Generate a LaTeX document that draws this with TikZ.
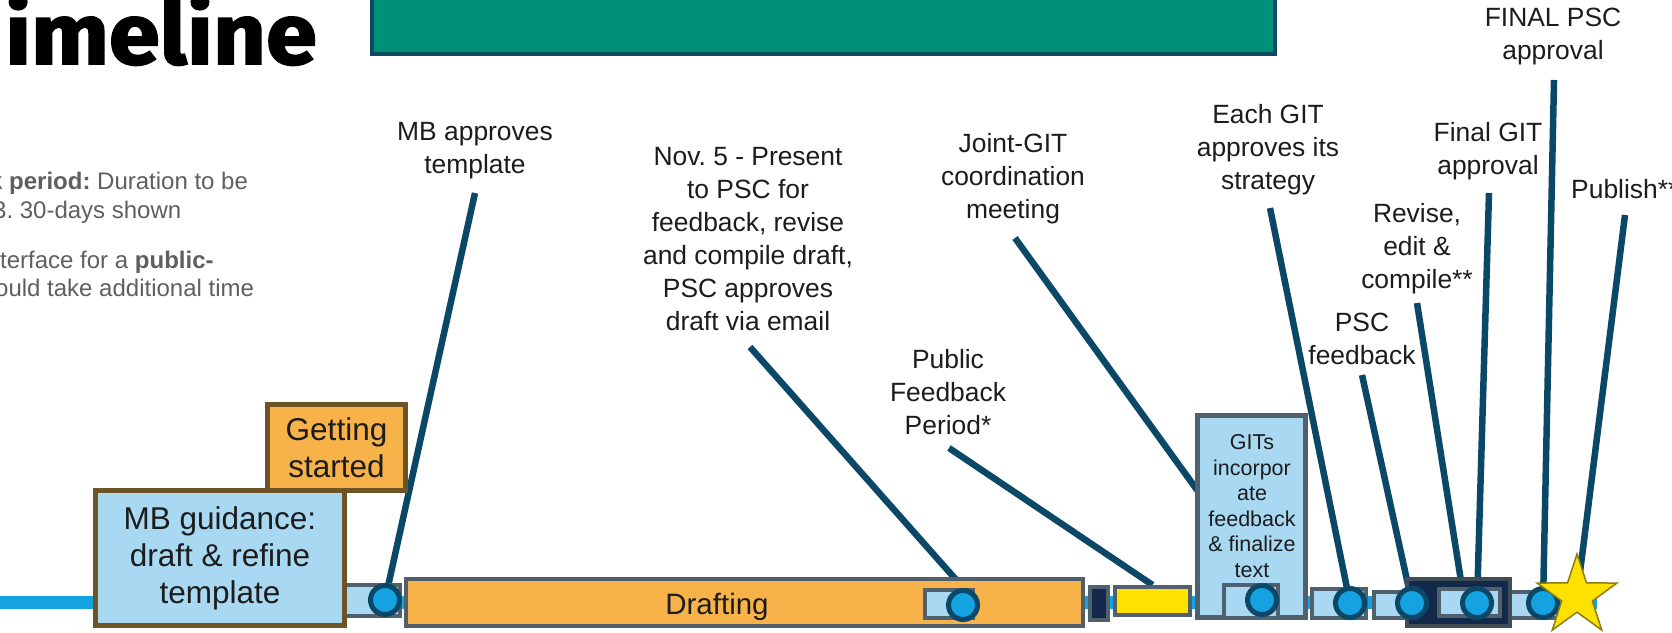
\documentclass[tikz,border=0pt]{standalone}
\usepackage{fontspec}
\setmainfont{Liberation Sans}
\newfontfamily\titlefont{Fira Sans}[FakeStretch=1.07, BoldFeatures={FakeBold=2}]
\usetikzlibrary{shapes.geometric}
\pgfdeclarelayer{bg}
\pgfsetlayers{bg,main}
\frenchspacing
\definecolor{tealfill}{HTML}{009079}
\definecolor{tealedge}{HTML}{0B4B5F}
\definecolor{lblue}{HTML}{A9D9F2}
\definecolor{bblue}{HTML}{14A3E0}
\definecolor{navyline}{HTML}{0B4868}
\definecolor{orangef}{HTML}{F8B24A}
\definecolor{brownedge}{HTML}{6E5424}
\definecolor{grayedge}{HTML}{50606C}
\definecolor{darknavy}{HTML}{13294B}
\definecolor{yell}{HTML}{FFE100}
\definecolor{staredge}{HTML}{8C7D10}
\definecolor{txtgray}{HTML}{5F5F5F}
\definecolor{txt}{HTML}{1C1C1C}
\tikzset{
  lbl/.style={align=center, inner sep=0pt, text=txt, font=\fontsize{26.4}{33}\selectfont},
  gt/.style={anchor=base west, inner sep=0pt, text=txtgray, font=\fontsize{24}{28}\selectfont},
  conn/.style={draw=navyline, line width=6.5pt},
  tline/.style={draw=bblue, line width=13pt},
  seg/.style={draw=grayedge, fill=lblue, line width=4pt, inner sep=0pt},
  bar/.style={draw=grayedge, line width=4pt, inner sep=0pt},
  brownbox/.style={draw=brownedge, line width=5pt, inner sep=0pt, align=center, text=txt, font=\fontsize{31.5}{37}\selectfont},
  dot/.style={circle, draw=navyline, fill=bblue, line width=5pt, minimum size=29pt, inner sep=0pt}
}
\begin{document}
\begin{tikzpicture}[x=1pt,y=-1pt]
\useasboundingbox (0,0) rectangle (1672,632);
% header
\node[draw=tealedge, fill=tealfill, line width=4pt, minimum width=903pt, minimum height=70pt, inner sep=0pt] (teal) at (823.5,19) {};
\node[anchor=base west, inner sep=0pt, font=\titlefont\bfseries\fontsize{86}{90}\selectfont, text=black] (title) at (5,64) {imeline};
\node[gt] (g1) at (-11,189) {\textbf{k period:} Duration to be};
\node[gt] (g2) at (-7,218) {3. 30-days shown};
\node[gt] (g3) at (0,268) {terface for a \textbf{public-}};
\node[gt] (g4) at (-5,296) {ould take additional time};
% labels
\node[lbl] (l1) at (475,151) {MB approves\\template};
\node[lbl] (l2) at (748,239) {Nov. 5 - Present\\to PSC for\\feedback, revise\\and compile draft,\\PSC approves\\draft via email};
\node[lbl] (l3) at (948,392) {Public\\Feedback\\Period*};
\node[lbl] (l4) at (1013,179) {Joint-GIT\\coordination\\meeting};
\node[lbl] (l5) at (1268,150) {Each GIT\\approves its\\strategy};
\node[lbl] (l6) at (1362,339) {PSC\\feedback};
\node[lbl] (l7) at (1417,249) {Revise,\\edit \&\\compile**};
\node[lbl] (l8) at (1488,151) {Final GIT\\approval};
\node[lbl] (l9) at (1553,37) {FINAL PSC\\approval};
\node[lbl, anchor=west] (l10) at (1571,189) {Publish**};
% timeline blocks
\node[seg, minimum width=55pt, minimum height=31pt] (s0) at (372.5,600.5) {};
\node[brownbox, fill=orangef, minimum width=138pt, minimum height=86pt] (gs) at (336.5,447.5) {Getting\\started};
\node[brownbox, fill=lblue, minimum width=249pt, minimum height=135pt] (mb) at (220,558) {MB guidance:\\draft \& refine\\template};
\node[bar, fill=orangef, minimum width=677pt, minimum height=47pt] (draft) at (744.5,602.5) {};
\node[inner sep=0pt, text=txt, font=\fontsize{29.5}{34}\selectfont] (dtxt) at (717,607) {Drafting};
\node[seg, minimum width=48pt, minimum height=28pt] (s1) at (949,604) {};
\node[bar, fill=darknavy, minimum width=18pt, minimum height=33pt] (nv) at (1099,603.5) {};
\node[bar, fill=yell, minimum width=75pt, minimum height=28pt] (yel) at (1152.5,601) {};
\node[seg, line width=5pt, minimum width=108pt, minimum height=202pt] (git) at (1251.5,516.5) {};
\node[inner sep=0pt, align=center, text=txt, font=\fontsize{21.5}{25.5}\selectfont] (gtxt) at (1252,506) {GITs\\incorpor\\ate\\feedback\\\& finalize\\text};
\node[seg, minimum width=54pt, minimum height=33pt] (s2) at (1251,601.5) {};
\node[seg, minimum width=54pt, minimum height=29pt] (s3) at (1339,603.5) {};
\node[seg, minimum width=44pt, minimum height=26pt] (s4) at (1396,605) {};
\node[seg, minimum width=48pt, minimum height=26pt] (s6) at (1534,605) {};
\node[bar, draw=grayedge!80!black, fill=darknavy, minimum width=103pt, minimum height=47pt] (dk) at (1458.5,602.5) {};
\node[seg, minimum width=61pt, minimum height=27pt] (s5) at (1469.5,602.5) {};
% milestones
\node[dot] (c0) at (385,600) {};
\node[dot] (c1) at (963,605) {};
\node[dot] (c2) at (1262,600) {};
\node[dot] (c3) at (1350,603) {};
\node[dot] (c4) at (1412,603) {};
\node[dot] (c5) at (1477,603) {};
\node[dot] (c6) at (1543,603) {};
\node[star, star points=5, star point ratio=2.6, minimum size=84pt, inner sep=0pt, fill=yell, draw=staredge, line width=1.5pt] (star) at (1577,596) {};
% connector ends
\coordinate (t1) at (475,193);
\coordinate (t2) at (750,347);
\coordinate (e2) at (974,600);
\coordinate (t3) at (949,448);
\coordinate (t4) at (1015,238);
\coordinate (e4) at (1205,501);
\coordinate (t5) at (1270,208);
\coordinate (t6) at (1362,375);
\coordinate (t7) at (1417,303);
\coordinate (e7) at (1464,600);
\coordinate (t8) at (1489,193);
\coordinate (t9) at (1554,80);
\coordinate (t10) at (1625,215);
\coordinate (tl0) at (0,602);
\coordinate (tl1) at (1597,602);
\begin{pgfonlayer}{bg}
\fill[white] (0,0) rectangle (1672,632);
\draw[tline] (tl0) -- (tl1);
\draw[conn] (t1) -- (c0.center);
\draw[conn] (t2) -- (e2);
\draw[conn] (t3) -- (yel.north);
\draw[conn] (t4) -- (e4);
\draw[conn] (t5) -- (c3.center);
\draw[conn] (t6) -- (c4.center);
\draw[conn] (t7) -- (e7);
\draw[conn] (t8) -- (c5.center);
\draw[conn] (t9) -- (c6.center);
\draw[conn] (t10) -- (star.center);
\end{pgfonlayer}
\end{tikzpicture}
\end{document}
